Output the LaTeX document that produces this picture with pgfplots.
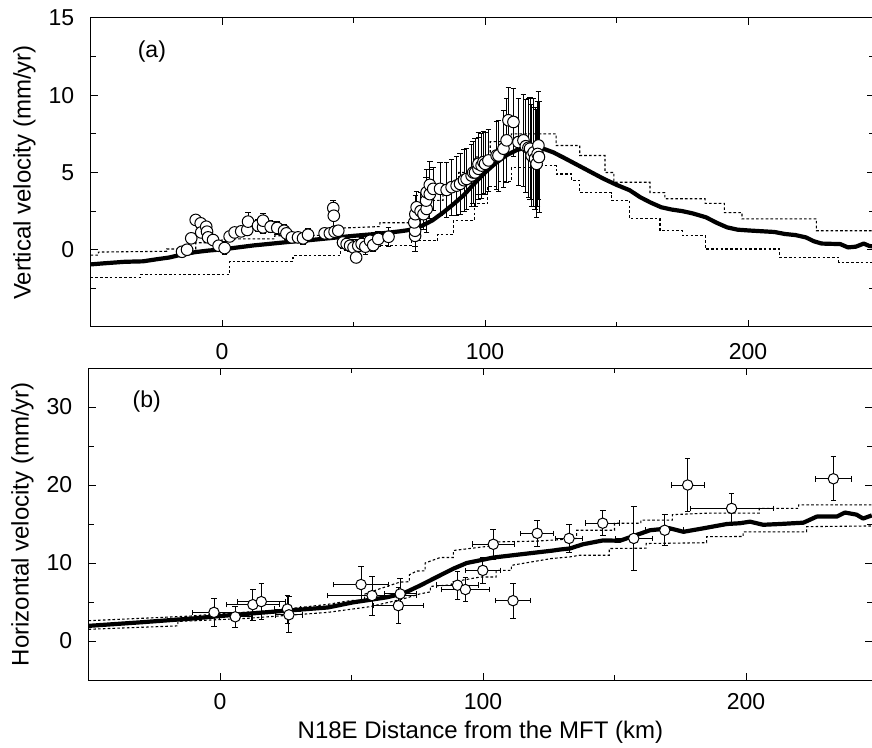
\documentclass[border=0pt]{standalone}
\usepackage{fontspec}
\setmainfont{Liberation Sans}
\usepackage{pgfplots}
\usepackage{pgfplotstable}
\pgfplotsset{compat=1.18}
\pgfplotstableread{
x y e
-15.2 -0.13 0.25
-13.3 0.0 0.25
-11.7 0.74 0.3
-10.0 1.93 0.3
-8.1 1.71 0.3
-7.9 1.12 0.3
-6.0 1.49 0.35
-5.7 1.17 0.3
-5.3 0.80 0.3
-3.4 0.63 0.3
-1.3 0.26 0.3
1.0 0.11 0.4
2.9 0.86 0.3
4.8 1.12 0.3
7.3 1.19 0.3
9.6 1.28 0.35
9.9 1.82 0.6
13.7 1.56 0.4
15.6 1.45 0.4
15.6 1.88 0.5
18.5 1.49 0.4
21.0 1.41 0.4
23.6 1.23 0.4
24.5 1.06 0.4
26.6 0.80 0.3
28.9 0.80 0.3
30.8 0.74 0.4
32.7 0.97 0.4
39.0 1.06 0.3
41.0 1.06 0.3
42.3 2.70 0.5
42.5 2.20 0.7
42.8 1.17 0.3
44.2 1.23 0.3
46.0 0.47 0.4
47.4 0.37 0.4
48.7 0.26 0.4
50.0 0.15 0.5
51.0 -0.50 0.3
51.8 0.26 0.4
53.1 0.37 0.4
54.5 0.20 0.5
56.3 0.58 0.5
57.5 0.30 0.4
59.4 0.70 0.5
63.3 0.84 0.6
73.4 0.90 1.0
73.4 1.23 1.0
73.1 1.77 1.0
73.5 2.30 1.2
74.0 2.75 1.0
75.5 2.50 1.2
76.6 2.30 1.0
77.8 2.64 1.5
77.6 3.18 1.5
77.8 3.72 1.5
79.0 3.60 1.6
79.0 4.20 1.5
80.3 3.94 1.4
82.9 3.94 1.7
85.4 3.87 1.8
87.3 4.05 1.8
89.2 4.15 1.9
90.5 4.26 2.0
92.0 4.50 2.0
93.0 4.58 2.0
94.9 4.80 2.0
95.5 5.00 2.0
96.2 5.00 2.2
97.5 5.24 2.0
97.5 5.56 2.0
98.7 5.45 2.1
99.4 5.67 2.0
100.0 5.56 2.0
101.3 5.78 2.0
104.4 6.10 2.2
105.1 6.10 2.3
107.0 6.54 2.5
108.2 7.08 2.7
108.9 8.38 2.1
110.8 8.27 2.2
112.7 6.97 2.8
114.6 7.08 3.0
115.5 6.70 3.0
116.5 6.60 3.2
117.1 6.54 3.3
117.7 6.10 3.3
118.5 6.30 3.5
119.0 5.89 3.3
119.6 5.56 3.5
120.3 6.75 3.5
120.0 6.20 3.4
120.5 6.00 3.6
}\vdata
\pgfplotstableread{
x y ex ey
-2.3 3.67 8 1.8
5.8 3.10 6 1.3
12.5 4.66 10 2.0
15.7 5.05 9 2.3
25.6 4.10 5 1.8
26.2 3.36 5 2.3
53.6 7.24 10.5 2.3
57.8 5.82 17 2.5
68.5 6.04 6 2.0
67.8 4.53 9.5 2.3
90.3 7.15 8 1.8
93.3 6.60 9 1.5
99.9 9.05 6.7 1.7
103.9 12.40 8 1.9
111.4 5.17 6.8 2.25
120.6 13.80 6.2 1.7
132.7 13.15 5 1.8
145.5 15.10 6.5 1.6
157.3 13.15 7 4.1
169.1 14.20 7.2 2.0
177.8 20.00 6.2 3.4
194.5 17.00 15.8 1.9
233.2 20.80 6.9 2.8
}\hdata
\begin{document}
\fontsize{12bp}{14bp}\selectfont
\begin{tikzpicture}
\useasboundingbox (0,0) rectangle (436bp,374bp);
\pgfplotsset{
  myax/.style={
    scale only axis, xmin=-50, xmax=248,
    axis line style={line width=0.5bp},
    every tick/.style={line width=0.5bp, black},
    major tick length=3.5bp, minor tick length=2.5bp,
    tick align=inside,
    xtick={0,100,200}, minor xtick={50,150},
    tick label style={font=\fontsize{11.5bp}{13bp}\selectfont},
    label style={font=\fontsize{12bp}{14bp}\selectfont},
    /pgf/number format/assume math mode=true,
    yticklabel style={xshift=-4bp},
    every axis y label/.style={at={(axis description cs:-0.0843,0.5)}, rotate=90, anchor=center},
    error bars/error bar style={line width=0.45bp, black},
    error bars/error mark options={rotate=90, mark size=1.4bp, line width=0.45bp, black},
  },
  model/.style={black, line width=2.1bp, line join=round},
  env/.style={black, line width=0.55bp, dash pattern=on 1.3bp off 1.1bp},
  pts/.style={only marks, mark=*, mark size=2.9bp, mark options={fill=white, draw=black, line width=0.5bp}},
}
% ---------------- (a) ----------------
\begin{axis}[myax, at={(45.25bp,210.5bp)}, anchor=south west,
  width=391.9bp, height=154.5bp,
  ymin=-5, ymax=15, ytick={0,5,10,15}, minor ytick={-2.5,2.5,7.5,12.5},
  xticklabel style={yshift=-4bp},
  ylabel={Vertical velocity (mm/yr)}]
\addplot[env] coordinates {
(-50,-0.35) (-47,-0.35) (-47,-0.15) (-21,-0.1) (-21,0.05) (-10,0.05) (-10,0.45) (0,0.45) (0,0.7) (20,0.7) (20,0.9) (45,0.95) (45,1.4) (60,1.5) (60,1.75) (72,1.75) (72,2.3) (78,2.3) (78,3.2) (84,3.2) (84,4.0) (90,4.0) (90,5.0) (96,5.0) (96,6.0) (102,6.0) (102,7.0) (110,7.0) (110,7.5) (127,7.5) (127,6.75) (136,6.75) (136,6.1) (145.6,6.1) (145.6,5.0) (149,5.0) (149,4.37) (162.7,4.37) (162.7,3.7) (168.4,3.7) (168.4,3.3) (183.7,3.3) (183.7,3.0) (191,3.0) (191,2.4) (197.7,2.4) (197.7,2.0) (226,2.0) (226,1.23) (248,1.23)};
\addplot[env] coordinates {
(-50,-1.8) (-31,-1.8) (-31,-1.6) (3,-1.6) (3,-0.75) (27,-0.75) (27,-0.4) (45,-0.4) (45,0.25) (72,0.25) (72,0.58) (82,0.58) (82,1.0) (88,1.0) (88,1.9) (96,1.9) (96,3.0) (101,3.0) (101,4.1) (105,4.1) (105,4.4) (110,4.4) (110,5.3) (121,5.3) (121,5.45) (127,5.45) (127,4.9) (133,4.9) (133,4.5) (136,4.5) (136,3.7) (148,3.7) (148,3.2) (155,3.2) (155,2.0) (166.5,2.0) (166.5,1.23) (175,1.23) (175,0.9) (183.7,0.9) (183.7,0.05) (212,0.05) (212,-0.5) (234.5,-0.5) (234.5,-0.82) (248,-0.82)};
\addplot[model] coordinates {
(-50,-0.95) (-45,-0.88) (-37,-0.78) (-30,-0.75) (-25,-0.62) (-20,-0.5) (-15,-0.3) (-10,-0.15) (-5,-0.05) (0,0.02) (6,0.15) (12,0.28) (18,0.38) (25,0.5) (32,0.6) (38,0.7) (44,0.8) (50,0.9) (57,1.0) (63,1.1) (68,1.2) (72,1.3) (76,1.55) (80,1.9) (84,2.4) (88,2.95) (92,3.55) (96,4.3) (100,5.0) (104,5.6) (108,6.1) (112,6.45) (116,6.65) (119,6.68) (122,6.55) (126,6.3) (130,5.95) (135,5.5) (140,5.05) (145,4.6) (150,4.2) (155,3.85) (159,3.4) (163,3.05) (167,2.75) (171,2.6) (175,2.5) (179,2.35) (184,2.1) (188,1.75) (192,1.45) (196,1.3) (200,1.25) (205,1.2) (210,1.15) (214,1.02) (218,0.95) (222,0.8) (225,0.55) (228,0.4) (232,0.38) (235,0.37) (238,0.15) (241,0.2) (244,0.4) (246,0.25) (248,0.2)};
\addplot[only marks, mark=none, error bars/.cd, y dir=both, y explicit] table[x=x, y=y, y error=e] {\vdata};
\addplot[pts] table[x=x, y=y] {\vdata};
\node[anchor=west, font=\fontsize{11.5bp}{13bp}\selectfont] at (axis cs:-35.2,12.8) {(a)};
\end{axis}
% ---------------- (b) ----------------
\begin{axis}[myax, at={(44.25bp,34bp)}, anchor=south west,
  width=391.9bp, height=156bp,
  ymin=-5, ymax=35, ytick={0,10,20,30}, minor ytick={5,15,25},
  xticklabel style={yshift=-2.7bp},
  ylabel={Horizontal velocity (mm/yr)},
  xlabel={N18E Distance from the MFT (km)},
  every axis x label/.style={at={(axis description cs:0.5,-0.167)}, anchor=center}]
\addplot[env] coordinates {
(-50,2.6) (-11,3.2) (0,3.5) (20,3.9) (41,4.7) (50,5.2) (55,5.2) (55,6.0) (60.8,6.7) (68.4,7.55) (72,7.6) (72,8.5) (74.8,8.97) (78,9.0) (78,10.0) (83.7,10.7) (88.7,10.7) (88.7,11.6) (100.1,12.07) (104,12.2) (104,12.7) (120,12.8) (126.7,12.94) (135.6,13.15) (135.6,14.2) (150,14.2) (150,15.1) (160,15.1) (160,15.5) (172,15.5) (172,16.2) (186,16.4) (205,16.4) (205,17.0) (220,17.0) (220,17.46) (248,17.46)};
\addplot[env] coordinates {
(-50,1.5) (-16,1.94) (-16,2.5) (10,2.9) (41,3.67) (57,4.4) (69.7,5.4) (76,6.04) (80,6.3) (80,7.0) (88,7.2) (88,7.55) (98.9,8.2) (105,8.2) (105,9.05) (110.8,9.05) (110.8,9.7) (126,10.57) (133,10.78) (136.9,11.0) (148,11.0) (148,11.86) (162,11.9) (162,12.5) (185,12.6) (185,13.37) (198.9,13.4) (198.9,14.0) (223,14.0) (223,14.66) (248,14.75)};
\addplot[model] coordinates {
(-50,1.94) (-30,2.4) (-10,2.9) (0,3.2) (20,3.75) (41,4.3) (50.7,4.96) (63.4,5.6) (69.7,6.1) (76,7.1) (82.4,8.2) (88.7,9.27) (93.8,10.0) (98.9,10.35) (103.9,10.7) (114,11.1) (126.7,11.6) (129.3,11.73) (133,11.86) (138,12.4) (145.7,12.9) (152,12.85) (158.4,13.6) (163.5,14.2) (171,14.45) (176.2,14.0) (183.8,14.45) (192.7,15.0) (197.7,15.1) (201.5,15.3) (206.5,14.9) (212.9,15.0) (221.8,15.17) (226.9,15.95) (234.5,15.95) (237.6,16.47) (242,16.2) (244.5,15.7) (247.8,16.1)};
\addplot[only marks, mark=none, error bars/.cd, x dir=both, x explicit, y dir=both, y explicit] table[x=x, y=y, x error=ex, y error=ey] {\hdata};
\addplot[pts, mark size=2.6bp] table[x=x, y=y] {\hdata};
\node[anchor=west, font=\fontsize{11.5bp}{13bp}\selectfont] at (axis cs:-36.4,30.7) {(b)};
\end{axis}
\end{tikzpicture}
\end{document}
